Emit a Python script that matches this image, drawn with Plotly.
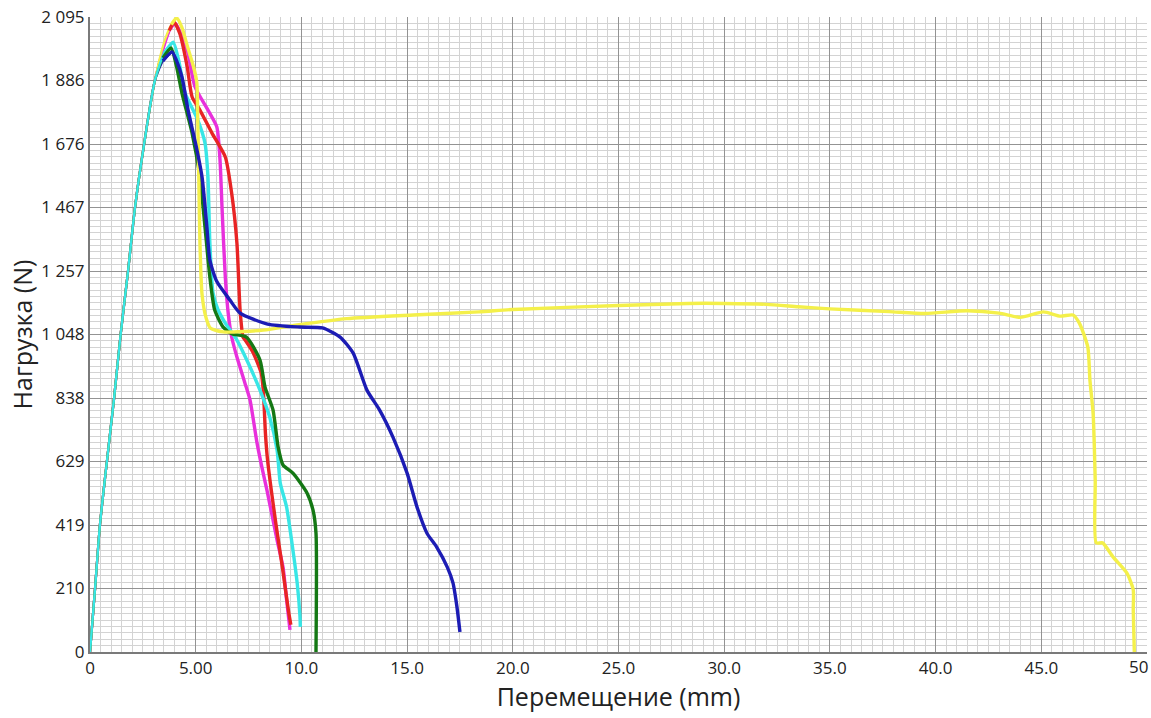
import plotly.graph_objects as go

# ---- Data ----
RED_X = [0, 0.24, 0.47, 0.8, 1.14, 1.45, 1.8, 2.13, 2.56, 3.07, 3.45, 3.75, 3.97, 4.25, 4.6, 4.83, 5.2, 5.77,
         6.4, 6.7, 6.95, 7.1, 7.24, 7.33, 7.7, 8.1, 8.2, 8.3, 8.4, 8.8, 9.1, 9.4, 9.5]
RED_Y = [0, 210, 419, 629, 838, 1048, 1257, 1467, 1676, 1886, 1990, 2050, 2078, 2040, 1930, 1831, 1788, 1712,
         1633, 1514, 1349, 1128, 1039, 1030, 990, 920, 860, 720, 633, 420, 280, 130, 90]

MAGENTA_X = [0, 0.24, 0.47, 0.8, 1.14, 1.45, 1.8, 2.13, 2.56, 3.07, 3.5, 3.8, 4.02, 4.3, 4.6, 4.97, 5.58, 6.0,
             6.15, 6.25, 6.4, 6.55, 6.7, 6.95, 7.33, 7.57, 7.9, 8.13, 8.37, 8.85, 9.13, 9.3, 9.46]
MAGENTA_Y = [0, 210, 419, 629, 838, 1048, 1257, 1467, 1676, 1886, 1995, 2055, 2075, 2040, 1986, 1864, 1788, 1732,
             1623, 1458, 1237, 1110, 1040, 973, 887, 831, 690, 610, 534, 369, 280, 172, 73]

CYAN_X = [0, 0.24, 0.47, 0.8, 1.14, 1.45, 1.8, 2.13, 2.56, 3.07, 3.5, 3.93, 4.2, 4.5, 5.1, 5.44, 5.58, 5.67,
          5.82, 6.05, 6.4, 6.95, 7.57, 8.04, 8.5, 8.85, 9.0, 9.3, 9.6, 9.8, 9.93, 9.95]
CYAN_Y = [0, 210, 419, 629, 838, 1048, 1257, 1467, 1676, 1886, 1975, 2012, 1950, 1844, 1755, 1679, 1567, 1349,
          1184, 1130, 1085, 1029, 940, 864, 775, 666, 557, 478, 336, 228, 120, 83]

GREEN_X = [0, 0.24, 0.47, 0.8, 1.14, 1.45, 1.8, 2.13, 2.56, 3.07, 3.45, 3.83, 4.1, 4.35, 4.83, 5.2, 5.44, 5.67,
           5.9, 6.3, 6.7, 7.4, 8.04, 8.28, 8.66, 8.9, 9.13, 9.6, 10.27, 10.55, 10.69, 10.69]
GREEN_Y = [0, 210, 419, 629, 838, 1048, 1257, 1467, 1676, 1886, 1960, 1993, 1930, 1844, 1712, 1567, 1402, 1237,
           1128, 1072, 1050, 1039, 963, 874, 798, 676, 617, 590, 524, 468, 392, 0]

YELLOW_X = [0, 0.24, 0.47, 0.8, 1.14, 1.45, 1.8, 2.13, 2.56, 3.07, 3.5, 3.85, 4.1, 4.35, 4.6, 4.9, 5.05, 5.1,
            5.15, 5.2, 5.3, 5.5, 5.7, 6.3, 8.2, 9.8, 12.15, 15.3, 18.4, 20.0, 25.0, 28.3, 30.0, 32.0, 33.5, 35.0,
            37.8, 39.5, 41.5, 43.0, 44.0, 45.1, 45.9, 46.5, 46.8, 47.2, 47.3, 47.45, 47.55, 47.6, 47.9, 48.4,
            49.05, 49.35, 49.35, 49.4]
YELLOW_Y = [0, 210, 419, 629, 838, 1048, 1257, 1467, 1676, 1886, 2010, 2070, 2092, 2060, 2000, 1930, 1880, 1750,
            1550, 1350, 1180, 1100, 1068, 1056, 1062, 1079, 1100, 1112, 1122, 1130, 1143, 1150, 1150, 1147, 1139, 1132,
            1123, 1117, 1126, 1118, 1104, 1122, 1108, 1112, 1085, 1006, 897, 788, 567, 360, 360, 313,
            260, 205, 139, 0]

BLUE_X = [0, 0.24, 0.47, 0.8, 1.14, 1.45, 1.8, 2.13, 2.56, 3.07, 3.45, 3.88, 4.1, 4.35, 4.64, 5.06, 5.3, 5.53,
          5.67, 6.0, 6.62, 7.1, 8.4, 9.93, 11.0, 11.83, 12.45, 13.1, 13.7, 14.33, 15.0, 15.47, 15.94, 16.4,
          16.9, 17.17, 17.36, 17.5]
BLUE_Y = [0, 210, 419, 629, 838, 1048, 1257, 1467, 1676, 1886, 1950, 1980, 1950, 1897, 1788, 1656, 1567, 1402,
          1293, 1222, 1161, 1118, 1082, 1072, 1069, 1039, 986, 864, 798, 709, 590, 478, 392, 346,
          280, 228, 148, 66]

X_TICK_VALUES = [0, 5, 10, 15, 20, 25, 30, 35, 40, 45, 50]
X_TICK_TEXT = ["0", "5.00", "10.0", "15.0", "20.0", "25.0", "30.0", "35.0", "40.0", "45.0", "50"]
Y_TICK_VALUES = [0, 209.5, 419, 628.5, 838, 1047.5, 1257, 1466.5, 1676, 1885.5, 2095]
Y_TICK_TEXT = ["0", "210", "419", "629", "838", "1 048", "1 257", "1 467", "1 676", "1 886", "2 095"]

X_TITLE = "Перемещение (mm)"
Y_TITLE = "Нагрузка (N)"

# drawing order for loading branches: later traces on top
series = [
    (BLUE_X, BLUE_Y, "#1c1cb4"),
    (RED_X, RED_Y, "#e82424"),
    (MAGENTA_X, MAGENTA_Y, "#e830dc"),
    (YELLOW_X, YELLOW_Y, "#f4f04a"),
    (GREEN_X, GREEN_Y, "#2f9a3a"),
    (CYAN_X, CYAN_Y, "#38e6e6"),
]
THICK_COLORS = {"#2f9a3a": "#147814"}

fig = go.Figure()
# thin loading branches (drawn first, underneath)
for xs, ys, col in series:
    k = ys.index(max(ys))
    fig.add_trace(go.Scatter(x=xs[:k + 1], y=ys[:k + 1], mode="lines",
                             line=dict(color=col, width=2.3, shape="spline", smoothing=0.6),
                             showlegend=False, hoverinfo="skip"))
# thick post-peak branches
post_order = [2, 1, 5, 4, 3, 0]  # magenta, red, cyan, green, yellow, blue
for i in post_order:
    xs, ys, col = series[i]
    k = ys.index(max(ys))
    fig.add_trace(go.Scatter(x=xs[k - 1:], y=ys[k - 1:], mode="lines",
                             line=dict(color=THICK_COLORS.get(col, col), width=3.4,
                                       shape="spline", smoothing=0.6),
                             showlegend=False, hoverinfo="skip"))

FONT = "Open Sans, Noto Sans, sans-serif"

# last x tick label is drawn right-aligned so that it stays inside the page
x_ticktext_axis = X_TICK_TEXT[:-1] + [""]
fig.add_annotation(x=X_TICK_VALUES[-1], y=0, xref="x", yref="paper",
                   text=X_TICK_TEXT[-1], showarrow=False,
                   xanchor="right", yanchor="top", xshift=3, yshift=-1,
                   font=dict(size=17, color="#222222"))

fig.update_layout(
    width=1151, height=718,
    margin=dict(l=90, r=4, t=17, b=66),
    paper_bgcolor="white", plot_bgcolor="white",
    font=dict(family=FONT, color="#222222", size=16),
    showlegend=False,
)
fig.update_xaxes(
    range=[0, 50], tickvals=X_TICK_VALUES, ticktext=x_ticktext_axis,
    showgrid=True, gridcolor="#939393", gridwidth=1,
    minor=dict(dtick=0.5, tick0=0, showgrid=True, gridcolor="#d3d3d3", gridwidth=1),
    showline=True, linecolor="#7a7a7a", linewidth=2,
    ticks="", tickfont=dict(size=17, color="#222222"), ticklabeloverflow="allow",
    title=dict(text=X_TITLE, font=dict(size=25, color="#222222"), standoff=4),
    zeroline=False, automargin=False,
)
fig.update_yaxes(
    range=[0, 2095], tickvals=Y_TICK_VALUES, ticktext=Y_TICK_TEXT,
    showgrid=True, gridcolor="#939393", gridwidth=1,
    minor=dict(dtick=20.95, tick0=0, showgrid=True, gridcolor="#d3d3d3", gridwidth=1),
    showline=True, linecolor="#7a7a7a", linewidth=2,
    ticks="", tickfont=dict(size=17, color="#222222"), ticklabeloverflow="allow",
    title=dict(text=Y_TITLE, font=dict(size=25, color="#222222"), standoff=2),
    zeroline=False, automargin=False,
)

fig.write_html("out.html", config={"displayModeBar": False},
               post_script="document.body.style.margin='0';document.body.style.overflow='hidden';")
